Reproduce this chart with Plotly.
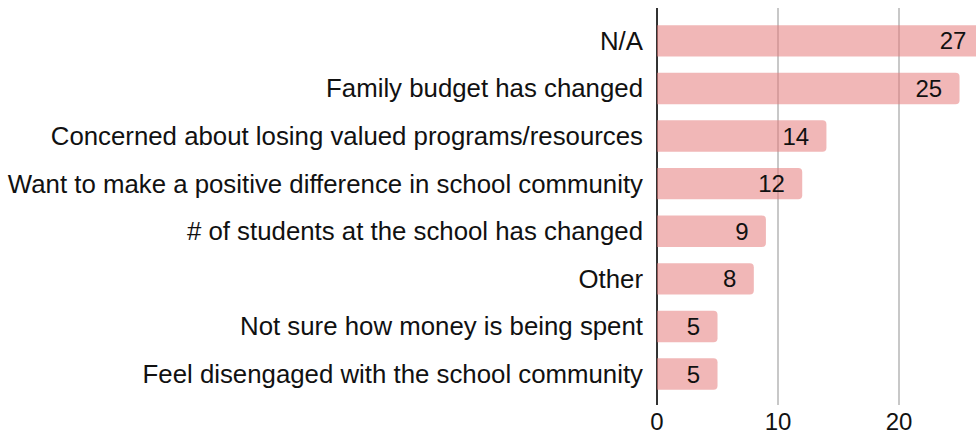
import plotly.graph_objects as go

reasons = [
    "N/A",
    "Family budget has changed",
    "Concerned about losing valued programs/resources",
    "Want to make a positive difference in school community",
    "# of students at the school has changed",
    "Other",
    "Not sure how money is being spent",
    "Feel disengaged with the school community",
]
counts = [27, 25, 14, 12, 9, 8, 5, 5]
x_ticks = [0, 10, 20]

fig = go.Figure(go.Bar(
    x=counts,
    y=reasons,
    orientation="h",
    text=[f"{c}\u00a0\u00a0" for c in counts],
    textposition="inside",
    insidetextanchor="end",
    textangle=0,
    insidetextfont=dict(size=24, color="#111"),
    marker=dict(color="rgba(230,124,124,0.55)", cornerradius=4, line=dict(width=0)),
    width=0.66,
    hoverinfo="skip",
))

fig.update_xaxes(
    range=[0, 26.36],
    tickvals=x_ticks,
    showgrid=True,
    gridcolor="#c8c8c8",
    gridwidth=1.5,
    zeroline=True,
    zerolinecolor="#333",
    zerolinewidth=2,
    ticks="",
    tickfont=dict(size=24, color="#111"),
)
fig.update_yaxes(
    type="category",
    range=[7.65, -0.69],
    showgrid=False,
    ticks="",
    ticklabelstandoff=13,
    tickfont=dict(size=25.8, color="#111"),
)
fig.update_layout(
    width=976,
    height=445,
    margin=dict(l=657, r=0, t=8, b=40),
    plot_bgcolor="white",
    paper_bgcolor="white",
    font=dict(family="Liberation Sans, Arial, sans-serif"),
    showlegend=False,
    uniformtext=dict(minsize=24, mode="show"),
)

# drop the default body margin so the figure fills the window
fig.write_html(
    "out.html",
    config={"displayModeBar": False},
    post_script="document.body.style.margin='0';document.body.style.overflow='hidden';",
)
